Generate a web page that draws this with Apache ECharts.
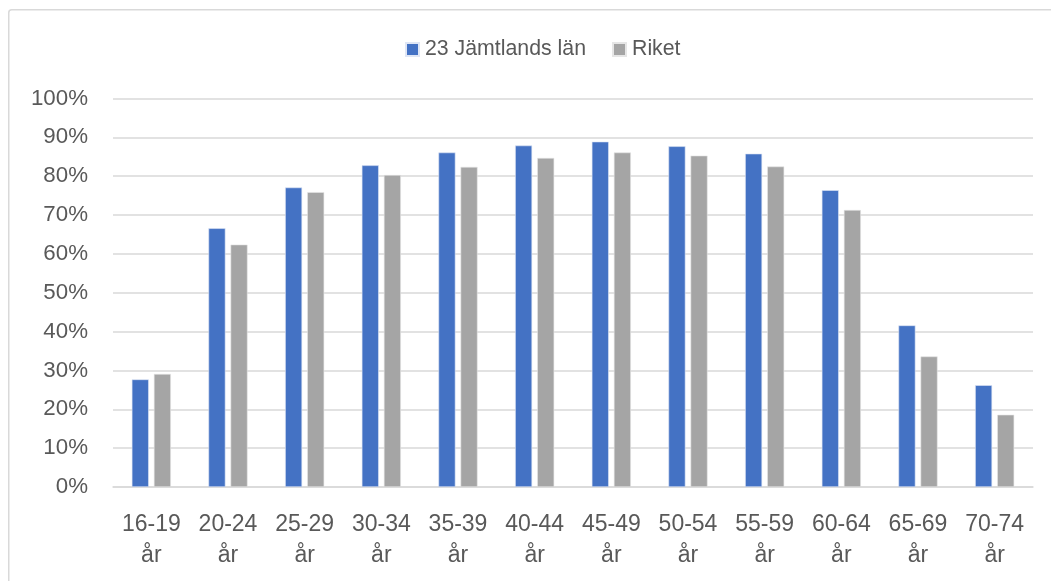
<!DOCTYPE html>
<html><head><meta charset="utf-8">
<script src="https://cdn.jsdelivr.net/npm/echarts@6/dist/echarts.min.js"></script>
<style>html,body{margin:0;padding:0;background:#fff}#c{width:1051px;height:581px}</style>
</head><body><div id="c"></div>
<script>
const categories = ['16-19\når','20-24\når','25-29\når','30-34\når','35-39\når','40-44\når','45-49\når','50-54\når','55-59\når','60-64\når','65-69\når','70-74\når'];
const jamtland = [27.7, 66.6, 77.1, 82.8, 86.1, 87.9, 88.9, 87.7, 85.8, 76.4, 41.6, 26.2];
const riket = [29.1, 62.4, 75.9, 80.3, 82.4, 84.7, 86.1, 85.3, 82.5, 71.3, 33.6, 18.6];
const seriesNames = ['23 Jämtlands län', 'Riket'];

const font = '"Liberation Sans", Arial, sans-serif';
const chart = echarts.init(document.getElementById('c'), null, {renderer:'canvas'});
chart.setOption({
  animation: false,
  backgroundColor: '#fff',
  graphic: [{
    type: 'rect', left: 8, top: 9, z: -1,
    shape: {width: 1060, height: 600, r: 3},
    style: {fill: '#fff', stroke: '#d9d9d9', lineWidth: 1.5}
  }],
  legend: {
    top: 39, left: 405, padding: 0,
    icon: 'rect',
    itemWidth: 13, itemHeight: 13, itemGap: 26,
    textStyle: {fontFamily: font, fontSize: 21.3, color: '#595959', padding: [0, 0, 0, 1]},
    data: seriesNames
  },
  grid: {left: 113, right: 18, top: 98.5, bottom: 94, containLabel: false},
  xAxis: {
    type: 'category', data: categories,
    axisLine: {lineStyle: {color: '#d9d9d9', width: 1.5}},
    axisTick: {show: false},
    axisLabel: {fontFamily: font, fontSize: 23, color: '#595959', lineHeight: 31, margin: 22, interval: 0}
  },
  yAxis: {
    type: 'value', min: 0, max: 100, interval: 10,
    axisLabel: {formatter: '{value}%', fontFamily: font, fontSize: 22.3, color: '#595959', margin: 25},
    splitLine: {lineStyle: {color: '#d9d9d9', width: 1.5}},
    axisLine: {show: false}, axisTick: {show: false}
  },
  series: [
    {name: seriesNames[0], type: 'bar', data: jamtland, barWidth: 17, barGap: '30%',
     itemStyle: {color: '#4472C4', borderColor: '#dfe6f5', borderWidth: 0.6}},
    {name: seriesNames[1], type: 'bar', data: riket, barWidth: 17,
     itemStyle: {color: '#A5A5A5', borderColor: '#e6e6e6', borderWidth: 0.6}}
  ]
});
</script></body></html>
